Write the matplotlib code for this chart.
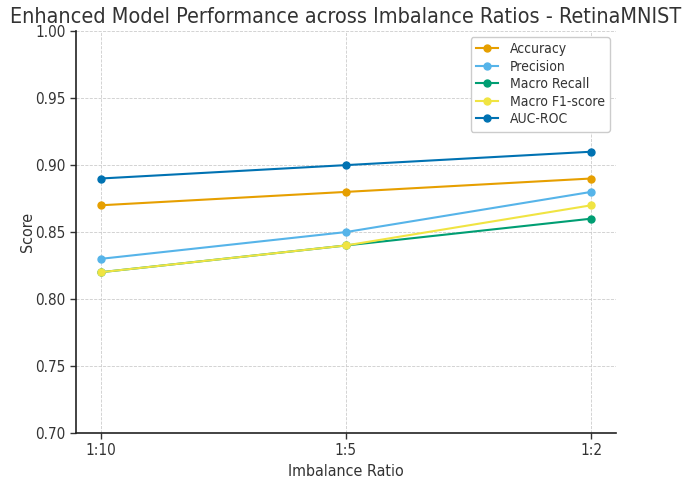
import matplotlib.pyplot as plt

# Данные
ratios = ['1:10', '1:5', '1:2']
accuracy = [0.87, 0.88, 0.89]
precision = [0.83, 0.85, 0.88]
macro_recall = [0.82, 0.84, 0.86]
macro_f1 = [0.82, 0.84, 0.87]
auc_roc = [0.89, 0.90, 0.91]

series = [
    ('Accuracy', accuracy, '#E69F00'),
    ('Precision', precision, '#56B4E9'),
    ('Macro Recall', macro_recall, '#009E73'),
    ('Macro F1-score', macro_f1, '#F0E442'),
    ('AUC-ROC', auc_roc, '#0072B2'),
]

plt.rcParams.update({
    'font.family': 'DejaVu Sans',
    'font.stretch': 'condensed',
    'text.color': '#333333',
    'axes.labelcolor': '#333333',
    'xtick.color': '#333333',
    'ytick.color': '#333333',
})

fig = plt.figure(figsize=(6.91, 4.8), dpi=100)
ax = fig.add_axes([0.110, 0.098, 0.781, 0.837])

x = list(range(len(ratios)))
for name, vals, color in series:
    ax.plot(x, vals, marker='o', markersize=5, linewidth=1.5, color=color, label=name)

ax.set_xticks(x)
ax.set_xticklabels(ratios)
ax.set_ylim(0.70, 1.00)
ax.set_yticks([0.70, 0.75, 0.80, 0.85, 0.90, 0.95, 1.00])
ax.tick_params(labelsize=11, length=4, width=1)

ax.grid(True, linestyle='--', linewidth=0.6, color='#cccccc')
for side in ['top', 'right']:
    ax.spines[side].set_visible(False)
for side in ['left', 'bottom']:
    ax.spines[side].set_color('#222222')
    ax.spines[side].set_linewidth(1.2)

ax.set_xlabel('Imbalance Ratio', fontsize=11.5)
ax.set_ylabel('Score', fontsize=11.5, labelpad=0)
ax.set_title('Enhanced Model Performance across Imbalance Ratios - RetinaMNIST', fontsize=15.5, pad=6)
ax.legend(loc='upper right', fontsize=10, framealpha=1, labelspacing=0.25,
          handlelength=1.6, borderaxespad=0.4)

fig.savefig('out.png', dpi=100)
